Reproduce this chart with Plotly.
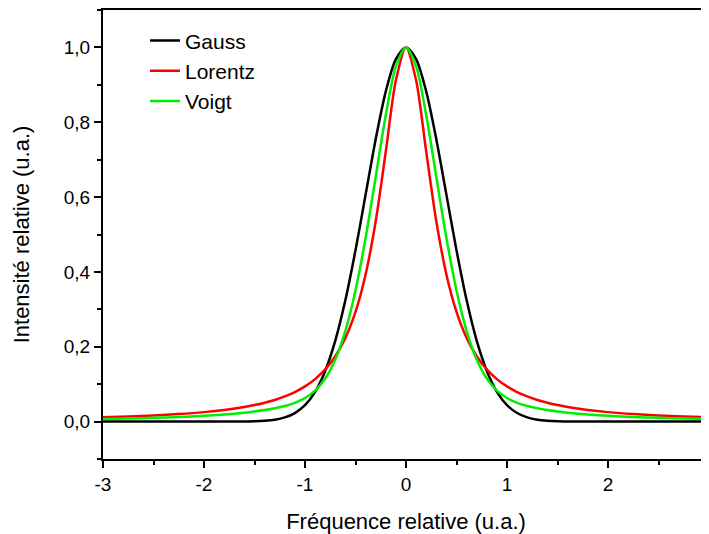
import plotly.graph_objects as go

x_vals = [-3.0, -2.75, -2.5, -2.25, -2.0, -1.8, -1.6, -1.5, -1.4, -1.3, -1.2, -1.1, -1.0, -0.9, -0.8, -0.7, -0.6, -0.5, -0.4, -0.3, -0.2, -0.1,
          0.0, 0.1, 0.2, 0.3, 0.4, 0.5, 0.6, 0.7, 0.8, 0.9, 1.0, 1.1, 1.2, 1.3, 1.4, 1.5, 1.6, 1.8, 2.0, 2.25, 2.5, 2.75, 3.0]

gauss = [0.0, 0.0, 0.0, 0.0, 0.0, 0.0, 0.0003, 0.0009, 0.0022, 0.0051, 0.0111, 0.0228, 0.0439, 0.0796, 0.1353, 0.2163, 0.3247, 0.4578, 0.6065, 0.7548, 0.8825, 0.969,
         1.0, 0.969, 0.8825, 0.7548, 0.6065, 0.4578, 0.3247, 0.2163, 0.1353, 0.0796, 0.0439, 0.0228, 0.0111, 0.0051, 0.0022, 0.0009, 0.0003, 0.0, 0.0, 0.0, 0.0, 0.0, 0.0]

lorentz = [0.0114, 0.0135, 0.0163, 0.0201, 0.0253, 0.0310, 0.0389, 0.0441, 0.0503, 0.0578, 0.0672, 0.0789, 0.0940, 0.1135, 0.1394, 0.1747, 0.2237, 0.2932, 0.3933, 0.5354, 0.7217, 0.912,
           1.0, 0.912, 0.7217, 0.5354, 0.3933, 0.2932, 0.2237, 0.1747, 0.1394, 0.1135, 0.0940, 0.0789, 0.0672, 0.0578, 0.0503, 0.0441, 0.0389, 0.0310, 0.0253, 0.0201, 0.0163, 0.0135, 0.0114]

voigt = [0.0071, 0.0084, 0.0101, 0.0124, 0.0156, 0.0191, 0.0239, 0.0270, 0.0307, 0.0355, 0.0416, 0.0501, 0.0629, 0.0828, 0.1150, 0.1657, 0.2425, 0.3506, 0.4906, 0.6540, 0.8192, 0.9493,
         1.0, 0.9493, 0.8192, 0.6540, 0.4906, 0.3506, 0.2425, 0.1657, 0.1150, 0.0828, 0.0629, 0.0501, 0.0416, 0.0355, 0.0307, 0.0270, 0.0239, 0.0191, 0.0156, 0.0124, 0.0101, 0.0084, 0.0071]

x_tick_vals = [-3, -2, -1, 0, 1, 2, 3]
x_tick_text = ["-3", "-2", "-1", "0", "1", "2", "3"]

series_names = ["Gauss", "Lorentz", "Voigt"]
series_colors = ["#000000", "#ff0000", "#00ee00"]

FONT = "Liberation Sans, Arial, sans-serif"

fig = go.Figure()
for name, ys, col in zip(series_names, [gauss, lorentz, voigt], series_colors):
    fig.add_trace(go.Scatter(x=x_vals, y=ys, mode="lines", name=name,
                             line=dict(color=col, width=2.5, shape="spline", smoothing=0.8)))

fig.update_layout(
    width=701, height=526,
    margin=dict(l=95, r=0, t=2, b=75),
    paper_bgcolor="white", plot_bgcolor="white",
    separators=", ",
    font=dict(family=FONT, size=19, color="#000000"),
    showlegend=True,
    legend=dict(x=0.0693, y=0.977, xanchor="left", yanchor="top", bgcolor="rgba(0,0,0,0)",
                font=dict(size=21), traceorder="normal"),
    xaxis=dict(range=[-3, 3], tickmode="array", tickvals=x_tick_vals, ticktext=x_tick_text,
               ticklabeloverflow="allow",
               showgrid=False, zeroline=False,
               showline=True, linecolor="black", linewidth=2, mirror=True,
               ticks="outside", ticklen=7, tickwidth=2, tickcolor="black",
               minor=dict(dtick=0.5, ticks="outside", ticklen=4, tickwidth=2, tickcolor="black"),
               title=dict(text="Fréquence relative (u.a.)", font=dict(size=22), standoff=20),
               automargin=False),
    yaxis=dict(range=[-0.1, 1.1], dtick=0.2, tick0=0, tickformat=".1f", showgrid=False, zeroline=False,
               showline=True, linecolor="black", linewidth=2, mirror=False,
               ticks="outside", ticklen=7, tickwidth=2, tickcolor="black",
               minor=dict(dtick=0.1, ticks="outside", ticklen=4, tickwidth=2, tickcolor="black"),
               title=dict(text="Intensité relative (u.a.)", font=dict(size=22), standoff=28),
               automargin=False),
)

fig.write_html("out.html")
